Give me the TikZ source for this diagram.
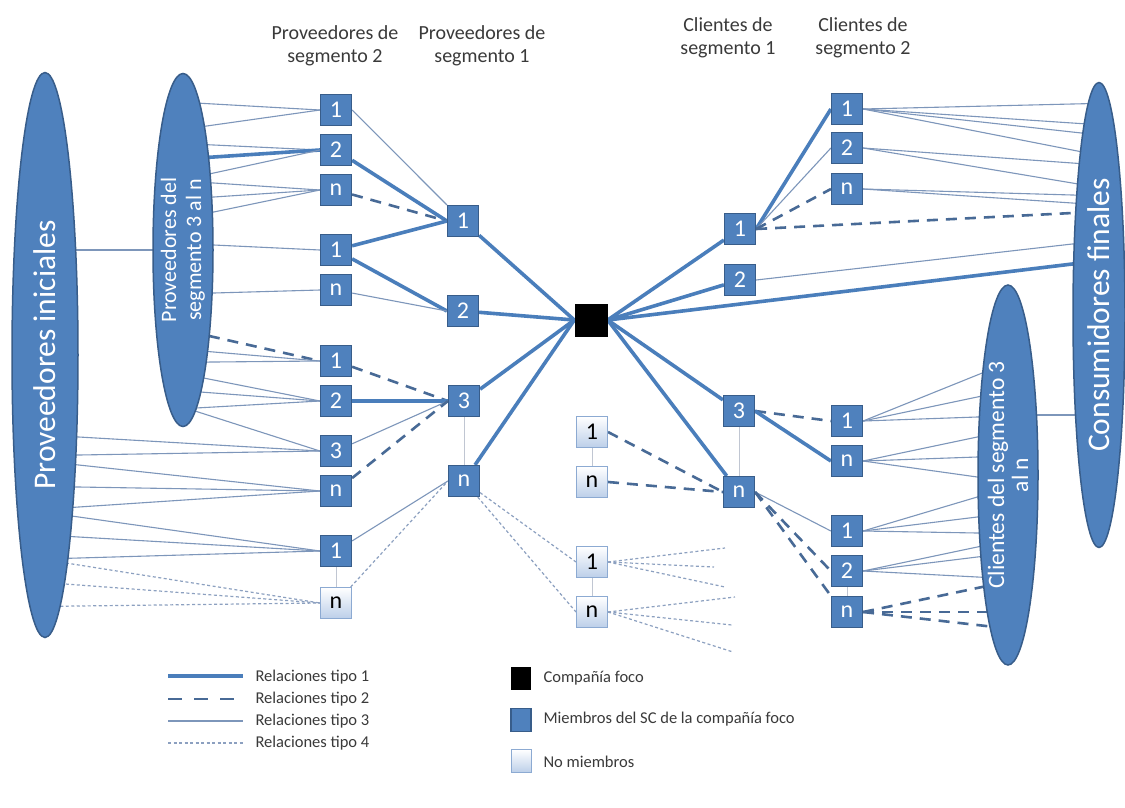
\documentclass[tikz,border=0pt]{standalone}
\usepackage{fontspec}
\setmainfont{Carlito}
\usetikzlibrary{shapes.geometric}
\pgfdeclarelayer{bg}
\pgfdeclarelayer{links}
\pgfsetlayers{bg,links,main}

\definecolor{mblue}{RGB}{79,129,189}
\definecolor{mborder}{RGB}{56,93,138}
\definecolor{nfill}{RGB}{188,207,233}
\definecolor{nborder}{RGB}{140,170,210}
\definecolor{cone}{RGB}{74,126,187}
\definecolor{ctwo}{RGB}{72,106,150}
\definecolor{cthree}{RGB}{125,150,186}
\definecolor{cfour}{RGB}{140,160,192}
\definecolor{clink}{RGB}{192,198,210}
\definecolor{txtgray}{RGB}{58,58,58}

\begin{document}
\begin{tikzpicture}[x=1pt,y=-1pt,
  mem/.style={draw=mborder, fill=mblue, line width=1.2pt, minimum size=31pt,
    inner sep=0pt, text=white, font=\fontsize{24}{24}\selectfont},
  non/.style={draw=nborder, top color=white, bottom color=nfill, line width=1pt,
    minimum size=31pt, inner sep=0pt, text=black, font=\fontsize{24}{24}\selectfont},
  foc/.style={fill=black, minimum size=33pt, inner sep=0pt},
  keybox/.style={minimum width=20pt, minimum height=23pt, inner sep=0pt},
  cloud/.style={ellipse, draw=mborder, fill=mblue, line width=1.5pt, inner sep=0pt},
  etext/.style={rotate=90, text=white, align=center},
  rone/.style={draw=cone, line width=3.6pt},
  rtwo/.style={draw=ctwo, line width=2.6pt, dash pattern=on 11pt off 8pt},
  rthree/.style={draw=cthree, line width=1.1pt},
  rfour/.style={draw=cfour, line width=1.2pt, dash pattern=on 3pt off 2.5pt},
  vlink/.style={draw=clink, line width=1pt},
  fromE/.style={shorten <=-24pt},
  toE/.style={shorten >=-24pt},
  lbl/.style={text=txtgray, align=center, font=\fontsize{20}{23}\selectfont},
  leg/.style={text=txtgray, anchor=west, font=\fontsize{16.5}{18}\selectfont}]

\useasboundingbox (0,0) rectangle (1125,807);
\begin{pgfonlayer}{bg}
  \fill[white] (0,0) rectangle (1125,807);
\end{pgfonlayer}

% column headings
\node[lbl] (h1) at (335,46) {Proveedores de\\segmento 2};
\node[lbl] (h2) at (482,46) {Proveedores de\\segmento 1};
\node[lbl] (h3) at (728,38) {Clientes de\\segmento 1};
\node[lbl] (h4) at (863,38) {Clientes de\\segmento 2};

% supplier and customer groups
\node[cloud, minimum width=66pt, minimum height=565pt] (E1) at (45,355) {};
\node[cloud, minimum width=60pt, minimum height=353pt] (E2) at (183,250) {};
\node[cloud, minimum width=52pt, minimum height=465pt] (E3) at (1099,315) {};
\node[cloud, minimum width=60pt, minimum height=380pt] (E4) at (1008,475) {};
\node[etext, font=\fontsize{31.5}{32}\selectfont] (T1) at (E1) {Proveedores iniciales};
\node[etext, font=\fontsize{22}{25}\selectfont] (T2) at (E2) {Proveedores del\\segmento 3 al n};
\node[etext, font=\fontsize{31.5}{32}\selectfont] (T3) at (E3) {Consumidores finales};
\node[etext, font=\fontsize{23.5}{24}\selectfont] (T4) at (E4) {Clientes del segmento 3\\al n};

% segment-2 suppliers
\foreach \n/\yy/\t in {A1/110/1, A2/150/2, A3/190/n, A4/250/1, A5/290/n,
    A6/361/1, A7/401/2, A8/451/3, A9/491/n, A10/551/1}
  \node[mem] (\n) at (336,\yy) {\t};
\node[non] (A11) at (336,603) {n};

% segment-1 suppliers
\node[mem] (B1) at (463,221) {1};
\node[mem] (B2) at (463,311) {2};
\node[mem] (B3) at (464,401) {3};
\node[mem] (B4) at (464,481) {n};

% focal company
\node[foc] (F) at (591,320) {};

% non-members in the middle
\node[non] (N1) at (592,432) {1};
\node[non] (N2) at (592,482) {n};
\node[non] (N3) at (592,562) {1};
\node[non] (N4) at (592,612) {n};

% segment-1 customers
\node[mem] (C1) at (740,229) {1};
\node[mem] (C2) at (740,280) {2};
\node[mem] (C3) at (739,411) {3};
\node[mem] (C4) at (739,492) {n};

% segment-2 customers
\foreach \n/\yy/\t in {D1/109/1, D2/148/2, D3/189/n, D4/421/1, D5/461/n,
    D6/531/1, D7/571/2, D8/612/n}
  \node[mem] (\n) at (847,\yy) {\t};

% open ends of the non-member relations
\coordinate (f1) at (725,548);
\coordinate (f2) at (714,567);
\coordinate (f3) at (725,587);
\coordinate (f4) at (735,597);
\coordinate (f5) at (732,625);
\coordinate (f6) at (733,652);

\begin{pgfonlayer}{links}
  % initial suppliers and segment 3..n suppliers
  \draw[rthree] (E1.center |- E2.center) -- (E2.center);
  \foreach \yy in {104,125} \draw[rthree,fromE] (E2.east |- 0,\yy) -- (A1.west);
  \draw[rthree,fromE] (E2.east |- 0,145) -- (A2.west);
  \draw[rone,fromE] (E2.east |- 0,157) -- (A2.west);
  \draw[rthree,fromE] (E2.east |- 0,173) -- (A2.west);
  \foreach \yy in {183,197,212} \draw[rthree,fromE] (E2.east |- 0,\yy) -- (A3.west);
  \draw[rthree,fromE] (E2.east |- 0,245) -- (A4.west);
  \draw[rthree,fromE] (E2.east |- 0,293) -- (A5.west);
  \draw[rtwo,fromE] (E2.east |- 0,337) -- (A6.west);
  \foreach \yy in {352,362} \draw[rthree,fromE] (E2.east |- 0,\yy) -- (A6.west);
  \foreach \yy in {380,393,407} \draw[rthree,fromE] (E2.east |- 0,\yy) -- (A7.west);
  \draw[rthree,fromE] (E2.east |- 0,417) -- (A8.west);
  \foreach \yy in {437,455} \draw[rthree,fromE] (E1.east |- 0,\yy) -- (A8.west);
  \foreach \yy in {465,487,507} \draw[rthree,fromE] (E1.east |- 0,\yy) -- (A9.west);
  \foreach \yy in {517,537,558} \draw[rthree,fromE] (E1.east |- 0,\yy) -- (A10.west);
  \foreach \yy in {565,585,606} \draw[rfour,fromE] (E1.east |- 0,\yy) -- (A11.west);

  % segment 2 to segment 1 suppliers
  \draw[rthree] (A1.east) -- (B1.north west);
  \draw[rone] (A2) -- (B1.west);
  \draw[rtwo] (A3) -- (B1.west);
  \draw[rone] (A4) -- (B1.west);
  \draw[rone] (A4) -- (B2.west);
  \draw[rthree] (A5) -- (B2.west);
  \draw[rtwo] (A6) -- (B3.west);
  \draw[rone] (A7) -- (B3.west);
  \draw[rthree] (A8) -- (B3.west);
  \draw[rtwo] (A9) -- (B3.west);
  \draw[rthree] (A10) -- (B4.west);
  \draw[rfour] (A11) -- (B4.west);

  % focal company
  \foreach \b in {B1,B2,B3,B4} \draw[rone] (\b) -- (F.west);
  \foreach \c in {C1,C2,C3,C4} \draw[rone] (F.east) -- (\c);
  \draw[rone,toE] (F.east) -- (E3.west |- 0,264);

  % non-members
  \draw[rfour] (B4) -- (N3.west);
  \draw[rfour] (B4) -- (N4.west);
  \draw[rtwo] (N1.east) -- (C4.west);
  \draw[rtwo] (N2.east) -- (C4.west);
  \foreach \f in {f1,f2,f3} \draw[rfour] (N3.east) -- (\f);
  \foreach \f in {f4,f5,f6} \draw[rfour] (N4.east) -- (\f);

  % segment 1 to segment 2 customers
  \draw[rone] (C1.east) -- (D1.west);
  \draw[rthree] (C1.east) -- (D2.west);
  \draw[rtwo] (C1.east) -- (D3.west);
  \draw[rtwo,toE] (C1.east) -- (E3.west |- 0,213);
  \draw[rthree,toE] (C2.east) -- (E3.west |- 0,244);
  \draw[rtwo] (C3.east) -- (D4.west);
  \draw[rone] (C3.east) -- (D5.west);
  \draw[rthree] (C4.east) -- (D6.west);
  \draw[rtwo] (C4.east) -- (D7.west);
  \draw[rtwo] (C4.east) -- (D8.north west);

  % segment 2 customers to final consumers
  \foreach \yy in {104,123,132,150} \draw[rthree,toE] (D1.east) -- (E3.west |- 0,\yy);
  \foreach \yy in {163,183} \draw[rthree,toE] (D2.east) -- (E3.west |- 0,\yy);
  \foreach \yy in {195,203} \draw[rthree,toE] (D3.east) -- (E3.west |- 0,\yy);

  % segment 2 customers to customers 3..n
  \foreach \yy in {375,397,417} \draw[rthree,toE] (D4.east) -- (E4.west |- 0,\yy);
  \foreach \yy in {437,457,477} \draw[rthree,toE] (D5.east) -- (E4.west |- 0,\yy);
  \foreach \yy in {497,517,533} \draw[rthree,toE] (D6.east) -- (E4.west |- 0,\yy);
  \foreach \yy in {547,557,577} \draw[rthree,toE] (D7.east) -- (E4.west |- 0,\yy);
  \foreach \yy in {588,612,625} \draw[rtwo,toE] (D8.east) -- (E4.west |- 0,\yy);
  \draw[rthree] (E4.center |- 0,415) -- (E3.center |- 0,415);

  % stacked members of one tier
  \foreach \a/\b in {A10/A11, B3/B4, N1/N2, N3/N4, C3/C4, D7/D8}
    \draw[vlink] (\a) -- (\b);
\end{pgfonlayer}

% legend: relation types
\coordinate (k1a) at (168,676); \coordinate (k1b) at (243,676);
\coordinate (k2a) at (168,699); \coordinate (k2b) at (243,699);
\coordinate (k3a) at (168,721); \coordinate (k3b) at (243,721);
\coordinate (k4a) at (168,743); \coordinate (k4b) at (243,743);
\draw[rone] (k1a) -- (k1b);
\draw[rtwo, dash pattern=on 14pt off 12pt] (k2a) -- (k2b);
\draw[rthree] (k3a) -- (k3b);
\draw[rfour] (k4a) -- (k4b);
\node[leg] (k1t) at (252,677) {Relaciones tipo 1};
\node[leg] (k2t) at (252,699) {Relaciones tipo 2};
\node[leg] (k3t) at (252,721) {Relaciones tipo 3};
\node[leg] (k4t) at (252,743) {Relaciones tipo 4};

% legend: node kinds
\node[fill=black, keybox] (q1) at (521,678) {};
\node[mem, keybox] (q2) at (521,720) {};
\node[non, keybox] (q3) at (521,761) {};
\node[leg] (q1t) at (540,678) {Compañía foco};
\node[leg] (q2t) at (540,719) {Miembros del SC de la compañía foco};
\node[leg] (q3t) at (540,762) {No miembros};
\end{tikzpicture}
\end{document}
